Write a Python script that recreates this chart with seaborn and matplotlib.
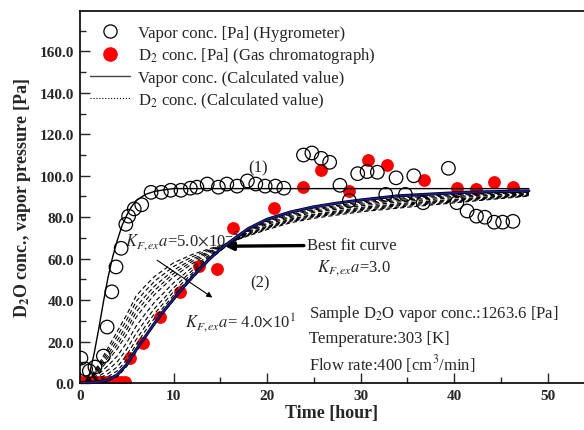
import pandas as pd
import matplotlib
matplotlib.use("Agg")
import matplotlib.pyplot as plt
from matplotlib.lines import Line2D
from matplotlib.ticker import MultipleLocator, FormatStrFormatter
import seaborn as sns

# --- measured data ---
# hygrometer (open circles)
hyg_t = [0.1, 0.6, 1.0, 1.6, 2.5, 2.9, 3.4, 3.85, 4.4, 4.9, 5.2, 5.8, 6.6, 7.6, 8.7,
         9.7, 10.8, 11.8, 12.5, 13.6, 14.8, 15.7, 16.8, 17.9, 18.8, 19.8, 20.9, 21.8,
         23.9, 24.8, 25.8, 26.7, 27.8, 28.8, 29.7, 30.7, 31.8, 32.7, 33.8, 34.8, 35.7,
         36.7, 39.4, 40.3, 41.4, 42.4, 43.3, 44.3, 45.2, 46.3]
hyg_v = [12, 6.7, 5.8, 7.7, 13, 27, 44, 56, 65, 76.6, 80.5, 84, 86, 92, 92,
         93, 93, 94, 94.5, 96, 94.5, 96, 95, 97.5, 96, 95, 95, 94,
         110, 111, 108.4, 106.5, 95.4, 88, 101, 102, 101.7, 91, 99, 91, 100,
         87, 103.6, 87, 83, 80.5, 80, 77.6, 77.6, 78]

# gas chromatograph (red dots)
gc_t = [0, 0.4, 0.8, 1.2, 1.6, 2.0, 2.4, 2.8, 3.2, 3.6, 4.0, 4.4, 4.8, 5.4, 6.7, 8.6,
        10.7, 12.7, 14.7, 16.4, 20.7, 23.8, 25.8, 28.8, 30.8, 32.8, 36.8, 40.3, 42.3,
        44.3, 46.3]
gc_v = [0.5, 0.5, 0.5, 0.5, 0.5, 0.5, 0.5, 0.5, 0.5, 0.5, 0.5, 0.5, 0.5, 11.9, 19.3,
        32, 43.7, 56.5, 55, 75, 84.3, 94.8, 102.8, 92.7, 107.6, 105, 98, 94.3, 93.8,
        97.2, 94.8]

# calculated vapor conc. (solid black)
vap_t = [0, 0.5, 1.0, 1.5, 2.0, 2.5, 3.0, 3.5, 4.0, 4.5, 5.0, 5.5, 6.0, 7.0, 8.0, 9.0, 10.0, 48.0]
vap_v = [0, 0, 4, 14, 26, 39, 51, 61, 69, 76, 81, 85, 88, 91, 92.5, 93.2, 93.8, 93.8]

# best fit curve (blue)
fit_t = [0, 2, 3, 4, 5, 6, 7, 8, 9, 10, 11, 12, 13, 14, 15, 16, 18, 20, 22.5, 25,
         27.5, 30, 34, 38, 41, 45, 48]
fit_v = [0, 0.5, 1.5, 4, 9, 16, 22.5, 29, 35, 40.5, 46, 51, 56, 60.5, 64.5, 68, 74.5,
         79, 82.5, 85, 86.8, 88.3, 90.3, 91.3, 92, 92.4, 92.7]

# calculated D2 conc. for K_F,ex a = 5.0e-5 ... 4.0e1 (dashed)
d2_t = [0, 1, 2, 3, 4, 5, 6, 7, 8, 10, 12, 14, 15.5, 18, 20, 22.5, 25, 30, 35, 40, 44, 48]
d2_k1 = [0, 2, 9, 17, 25, 33, 42, 47, 51.5, 58, 62, 65, 67, 71, 74, 77.3, 79.5, 82.6, 84.8, 86.9, 88.6, 90.2]
d2_k2 = [0, 1.8, 8.1, 15.4, 22.8, 30.5, 39.3, 44.5, 49.2, 56.2, 60.9, 64.5, 66.9, 71.3, 74.5, 77.8, 80, 83.1, 85.3, 87.4, 88.9, 90.4]
d2_k3 = [0, 1.6, 7.3, 13.8, 20.6, 28, 36.6, 42, 46.9, 54.4, 59.7, 64, 66.7, 71.6, 74.9, 78.2, 80.5, 83.7, 85.9, 87.8, 89.3, 90.7]
d2_k4 = [0, 1.4, 6.5, 12.4, 18.6, 25.8, 34.2, 39.8, 44.8, 52.8, 58.7, 63.6, 66.6, 71.9, 75.3, 78.7, 81, 84.2, 86.4, 88.2, 89.6, 90.9]
d2_k5 = [0, 1.2, 5.7, 10.9, 16.6, 23.5, 31.7, 37.5, 42.8, 51.2, 57.6, 63.1, 66.4, 72.1, 75.7, 79.1, 81.4, 84.7, 86.9, 88.6, 89.9, 91.1]
d2_k6 = [0, 0.9, 4.3, 8.4, 13.1, 19.5, 27.4, 33.5, 39.1, 48.3, 55.8, 62.3, 66.2, 72.6, 76.5, 79.8, 82.3, 85.5, 87.7, 89.4, 90.5, 91.4]
d2_k7 = [0, 0.7, 3.2, 6.3, 10.3, 16.3, 23.9, 30.3, 36.1, 45.9, 54.3, 61.7, 66, 73, 77.1, 80.4, 82.9, 86.2, 88.4, 90, 90.9, 91.7]
d2_k8 = [0, 0.4, 2.2, 4.5, 7.8, 13.5, 20.9, 27.5, 33.6, 44, 53, 61.1, 65.8, 73.3, 77.6, 81, 83.5, 86.8, 89, 90.5, 91.3, 92]
d2_k9 = [0, 0.3, 1.4, 3.1, 5.9, 11.3, 18.5, 25.3, 31.5, 42.3, 52, 60.7, 65.7, 73.6, 78, 81.4, 83.9, 87.3, 89.5, 90.9, 91.6, 92.2]
d2_k10 = [0, 0, 0.3, 1, 3, 8, 15, 22, 28.5, 40, 50.5, 60, 65.5, 74, 78.6, 82, 84.6, 88, 90.2, 91.5, 92.1, 92.5]
d2_curves = [d2_k1, d2_k2, d2_k3, d2_k4, d2_k5, d2_k6, d2_k7, d2_k8, d2_k9, d2_k10]

# --- style ---
sns.set_theme(style="ticks")
plt.rcParams['font.family'] = ['Liberation Serif', 'DejaVu Serif']
plt.rcParams['mathtext.fontset'] = 'stix'
plt.rcParams['font.size'] = 12

fig = plt.figure(figsize=(5.84, 4.31), dpi=100)
ax = fig.add_axes([80 / 584, 47 / 431, 504 / 584, 372 / 431])

# dashed family
for vals in d2_curves:
    sns.lineplot(x=d2_t, y=vals, ax=ax, color='black', linewidth=0.8,
                 linestyle=(0, (4, 2.5)), estimator=None, sort=False, zorder=3)

# best fit curve
sns.lineplot(x=fit_t, y=fit_v, ax=ax, color='black', linewidth=2.2,
             estimator=None, sort=False, zorder=4)
sns.lineplot(x=fit_t, y=fit_v, ax=ax, color='#1c1c9e', linewidth=1.2,
             estimator=None, sort=False, zorder=5)

# vapor conc. calculated
sns.lineplot(x=vap_t, y=vap_v, ax=ax, color='black', linewidth=1.0,
             estimator=None, sort=False, zorder=4)

# measured points
sns.scatterplot(x=gc_t, y=gc_v, ax=ax, color='#ff0000', edgecolor='#ff0000',
                s=85, linewidth=0, zorder=2)
sns.scatterplot(x=hyg_t, y=hyg_v, ax=ax, facecolor='none', edgecolor='black',
                s=95, linewidth=0.9, zorder=6)

ax.set_xlim(0, 53.9)
ax.set_ylim(0, 179.5)
ax.xaxis.set_major_locator(MultipleLocator(10))
ax.xaxis.set_minor_locator(MultipleLocator(5))
ax.yaxis.set_major_locator(MultipleLocator(20))
ax.yaxis.set_minor_locator(MultipleLocator(10))
ax.yaxis.set_major_formatter(FormatStrFormatter('%.1f'))
ax.tick_params(which='both', direction='in', top=False, right=False, width=1.0)
ax.tick_params(which='major', length=7, labelsize=11, pad=4)
ax.tick_params(which='minor', length=4)
for lab in ax.get_xticklabels() + ax.get_yticklabels():
    lab.set_fontweight('bold')
for side in ['left', 'bottom', 'top']:
    ax.spines[side].set_linewidth(1.2)
    ax.spines[side].set_color('black')
ax.spines['right'].set_visible(False)

ax.set_xlabel('Time [hour]', fontsize=13, fontweight='bold', labelpad=2)
ax.set_ylabel(r'D$_{\mathbf{2}}$O conc., vapor pressure [Pa]', fontsize=13,
              fontweight='bold', labelpad=5)

# legend
handles = [
    Line2D([], [], linestyle='none', marker='o', markersize=9.5,
           markerfacecolor='none', markeredgecolor='black', markeredgewidth=0.9),
    Line2D([], [], linestyle='none', marker='o', markersize=9.5,
           markerfacecolor='#ff0000', markeredgecolor='#ff0000'),
    Line2D([], [], color='#444444', linewidth=1.0),
    Line2D([], [], color='black', linewidth=0.8, linestyle=':'),
]
labels = ['Vapor conc. [Pa] (Hygrometer)',
          r'D$_2$ conc. [Pa] (Gas chromatograph)',
          'Vapor conc. (Calculated value)',
          r'D$_2$ conc. (Calculated value)']
ax.legend(handles, labels, loc='upper left', bbox_to_anchor=(0.0, 0.99),
          frameon=False, fontsize=12, handlelength=2.4, handletextpad=0.5,
          labelspacing=0.28, borderaxespad=0.2)

# annotations
ax.text(19.0, 104, '(1)', fontsize=12, ha='center', va='center')
ax.text(19.2, 48.5, '(2)', fontsize=12, ha='center', va='center')
ax.text(4.8, 69, r'$K_{F,ex}a$=5.0$\times$10$^{-5}$', fontsize=12, va='center')
ax.annotate('', xy=(14.4, 40.5), xytext=(8.0, 60),
            arrowprops=dict(arrowstyle='-|>', color='black', lw=0.8,
                            mutation_scale=8))
ax.text(11.2, 29, r'$K_{F,ex}a$= 4.0$\times$10$^{1}$', fontsize=12, va='center')
ax.annotate('Best fit curve', xy=(15.5, 66), xytext=(24.3, 66.5),
            fontsize=12, va='center', ha='left',
            arrowprops=dict(arrowstyle='-|>', color='black', lw=2.4,
                            mutation_scale=12, shrinkA=0, shrinkB=0))
ax.text(25.3, 56, r'$K_{F,ex}a$=3.0', fontsize=12, va='center')
ax.text(24.5, 34, r'Sample D$_2$O vapor conc.:1263.6 [Pa]', fontsize=12, va='center')
ax.text(24.5, 21.5, 'Temperature:303 [K]', fontsize=12, va='center')
ax.text(24.5, 9.5, r'Flow rate:400 [cm$^3$/min]', fontsize=12, va='center')

fig.savefig('out.png', dpi=100)
